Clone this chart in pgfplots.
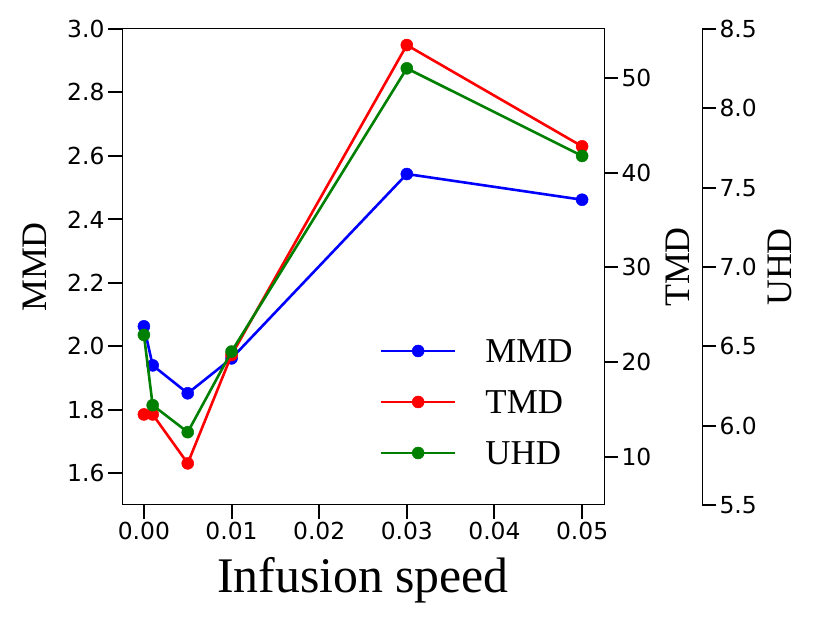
\documentclass[border=0pt]{standalone}
\usepackage{fontspec}
\setmainfont{Liberation Serif}
\newfontfamily\dejavu{DejaVu Sans}
\usepackage{pgfplots}
\usepackage{pgfplotstable}
\pgfplotsset{compat=1.18}
\definecolor{mblue}{RGB}{0,0,255}
\definecolor{mred}{RGB}{255,0,0}
\definecolor{mgreen}{RGB}{0,128,0}

\pgfplotstableread{
x      mmd    tmd    uhd
0      2.063  14.47  6.572
0.001  1.940  14.47  6.129
0.005  1.852  9.30   5.959
0.01   1.962  20.75  6.467
0.03   2.543  53.5   8.252
0.05   2.462  42.8   7.700
}\data

\pgfplotsset{
  base/.style={
    scale only axis, width=482bp, height=476bp,
    at={(122bp,118bp)}, anchor=south west,
    xmin=-0.0025, xmax=0.0525,
    tick align=outside, major tick length=14bp,
    every tick/.style={black, line width=2bp},
    ticklabel style={font=\dejavu\fontsize{23.5}{24}\selectfont},
    /pgf/number format/assume math mode=true,
    axis line style={line width=1bp},
    label style={font=\fontsize{36}{40}\selectfont},
  },
  dat/.style={line width=2.6bp, mark=*, mark size=6bp, mark options={solid, line width=0.5bp}},
}

\begin{document}
\begin{tikzpicture}
\useasboundingbox (0,0) rectangle (830bp,623bp);
% main axis: MMD
\begin{axis}[base,
  ymin=1.5, ymax=3.0,
  ytick={1.6,1.8,2.0,2.2,2.4,2.6,2.8,3.0},
  xtick={0,0.01,0.02,0.03,0.04,0.05},
  scaled x ticks=false, scaled y ticks=false,
  xticklabel style={/pgf/number format/.cd, fixed, fixed zerofill, precision=2},
  yticklabel style={/pgf/number format/.cd, fixed, fixed zerofill, precision=1},
  xtick pos=left, ytick pos=left,
  xlabel={Infusion speed}, ylabel={MMD},
  xlabel style={font=\fontsize{50}{55}\selectfont, at={(axis description cs:0.5,-0.184)}, anchor=base},
  ylabel style={at={(axis description cs:-0.156,0.5)}, anchor=base},
]
\addplot[mblue, dat] table[x=x, y=mmd]{\data};
\end{axis}
% TMD axis
\begin{axis}[base, hide x axis, axis y line*=right,
  ymin=4.9, ymax=55.2,
  ytick={10,20,30,40,50},
  ylabel={TMD},
  ylabel style={at={(axis description cs:1.178,0.5)}, anchor=base},
]
\addplot[mred, dat] table[x=x, y=tmd]{\data};
\end{axis}
% UHD data axis + legend
\begin{axis}[base, hide x axis, hide y axis,
  ymin=5.5, ymax=8.5,
  legend image code/.code={\draw[mark repeat=2, mark phase=2] plot coordinates {(0bp,0bp) (37bp,0bp) (74bp,0bp)};},
  legend cell align=left,
  legend style={draw=none, fill=none, inner sep=0pt, outer sep=0pt,
    at={(axis description cs:0.535,0.2164)}, anchor=west,
    column sep=29bp, row sep=28bp,
    nodes={inner sep=0pt, text height=23bp, text depth=0pt, font=\fontsize{35}{40}\selectfont}},
]
\addlegendimage{mblue, dat}
\addlegendentry{MMD}
\addlegendimage{mred, dat}
\addlegendentry{TMD}
\addplot[mgreen, dat] table[x=x, y=uhd]{\data};
\addlegendentry{UHD}
\end{axis}
% UHD spine axis
\begin{axis}[base, width=580bp, xmin=0, xmax=1,
  hide x axis, axis y line*=right,
  ymin=5.5, ymax=8.5,
  ytick={5.5,6.0,6.5,7.0,7.5,8.0,8.5},
  yticklabel style={/pgf/number format/.cd, fixed, fixed zerofill, precision=1},
  ylabel={UHD},
  ylabel style={at={(axis description cs:1.1547,0.5)}, anchor=base},
]
\end{axis}
\end{tikzpicture}
\end{document}
